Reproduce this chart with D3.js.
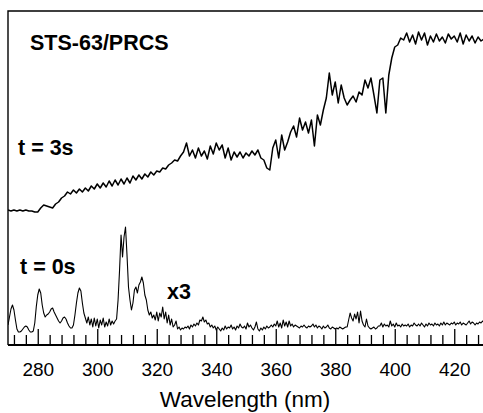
<!DOCTYPE html>
<html>
<head>
<meta charset="utf-8">
<script src="https://cdn.jsdelivr.net/npm/d3@7"></script>
<style>
  body { margin: 0; background: #fff; }
  svg { display: block; font-family: "Liberation Sans", Arial, sans-serif; }
</style>
</head>
<body>
<div id="chart"></div>
<script>
// t = 3s spectrum, 1 nm steps from 270 to 430 (arbitrary units)
const wl3s = d3.range(270, 430.5, 1);
const spec3s = [
  135,134,135,134,135,134,135,134,134,133,
  133,137,140,139,138,137,141,143,147,149,
  153,151,155,152,156,153,157,154,159,156,
  161,157,162,158,164,159,165,160,166,161,
  167,162,169,165,170,166,171,168,173,170,
  174,173,177,176,180,182,185,184,189,193,
  202,189,195,187,197,189,194,186,199,191,
  202,195,200,187,197,185,193,188,193,187,
  192,189,194,190,195,187,185,177,175,197,
  205,187,210,195,203,213,219,208,227,215,
  223,212,225,199,230,220,235,247,272,250,
  263,242,260,247,240,245,249,243,253,250,
  265,257,267,250,232,265,267,232,270,287,
  298,300,307,305,312,303,310,301,313,305,
  312,300,309,303,311,304,308,302,311,306,
  309,303,312,301,310,304,309,302,308,304,
  306
];

// t = 0s spectrum (x3), 0.5 nm steps from 270 to 430
const wl0s = d3.range(270, 430.25, 0.5);
const spec0s = [
  20,28,36,40,35,25,16,13,13,14,
  16,18,19,18,15,13,13,14,22,38,
  50,56,52,40,32,28,30,31,33,36,
  37,33,30,27,24,22,24,27,28,26,
  22,19,17,17,20,30,42,52,57,54,
  42,32,27,22,28,20,26,18,27,19,
  26,17,25,20,27,18,23,19,26,20,
  24,21,24,26,45,75,110,88,108,118,
  90,58,45,35,42,55,58,52,60,63,
  68,62,50,45,35,30,33,27,30,25,
  33,24,32,28,38,26,33,22,30,20,
  26,18,20,24,16,18,15,17,16,18,
  17,19,16,20,18,21,19,22,20,25,
  24,28,23,25,21,22,18,20,17,19,
  15,18,16,14,17,15,19,16,18,17,
  20,16,18,15,19,17,21,18,17,19,
  16,22,18,20,17,15,18,23,16,14,
  17,15,18,16,19,17,18,20,18,21,
  19,24,18,22,17,25,19,23,18,24,
  19,21,18,20,19,18,17,19,18,20,
  18,17,19,18,19,21,18,20,17,19,
  18,16,19,17,18,20,17,16,18,17,
  16,17,16,18,17,16,17,18,18,25,
  32,27,24,31,26,33,22,34,24,20,
  18,26,19,17,16,17,18,16,17,19,
  19,22,18,21,19,20,18,24,19,21,
  18,22,19,20,18,21,19,20,19,21,
  18,20,19,22,20,19,21,19,22,20,
  18,21,19,22,20,21,19,22,20,21,
  19,22,20,23,20,22,21,20,22,21,
  23,20,22,21,23,20,22,21,20,22,
  24,21,23,22,20,22,21,23,22,24,
  22
];

const majorTicks = [280, 300, 320, 340, 360, 380, 400, 420];
const minorTicks = d3.range(272, 430, 4).filter(v => v % 20 !== 0);

const labels = [
  { text: 'STS-63/PRCS', x: 30, y: 50 },
  { text: 't = 3s', x: 18, y: 155 },
  { text: 't = 0s', x: 20, y: 274 },
  { text: 'x3', x: 167, y: 299 }
];

const width = 483, height = 413;
const margin = { left: 8, top: 11, bottom: 345, right: 484 };

const svg = d3.select('#chart').append('svg').attr('width', width).attr('height', height);

const x = d3.scaleLinear().domain([270, 430]).range([margin.left, margin.right]);
const y = d3.scaleLinear().domain([0, 334]).range([margin.bottom, margin.top]);

svg.append('defs').append('clipPath').attr('id', 'clip')
  .append('rect').attr('x', margin.left).attr('y', margin.top)
  .attr('width', margin.right - margin.left).attr('height', margin.bottom - margin.top);

const line = d3.line().x(d => x(d[0])).y(d => y(d[1]));

const plot = svg.append('g').attr('clip-path', 'url(#clip)');
plot.append('path')
  .datum(wl3s.map((w, i) => [w, spec3s[i]]))
  .attr('d', line).attr('fill', 'none').attr('stroke', '#000').attr('stroke-width', 1.5)
  .attr('stroke-linejoin', 'round');
plot.append('path')
  .datum(wl0s.map((w, i) => [w, spec0s[i]]))
  .attr('d', line).attr('fill', 'none').attr('stroke', '#000').attr('stroke-width', 1.1)
  .attr('stroke-linejoin', 'round');

// frame: top and left
svg.append('path')
  .attr('d', `M${margin.right},${margin.top}H${margin.left}V${margin.bottom}`)
  .attr('fill', 'none').attr('stroke', '#000').attr('stroke-width', 1.4);

// minor ticks
const minorAxis = svg.append('g').attr('transform', `translate(0,${margin.bottom})`)
  .call(d3.axisBottom(x).tickValues(minorTicks).tickSize(-10).tickFormat(''));
minorAxis.select('.domain').remove();
minorAxis.selectAll('line').attr('stroke-width', 1.3);

// major ticks + labels
const majorAxis = svg.append('g').attr('transform', `translate(0,${margin.bottom})`)
  .call(d3.axisBottom(x).tickValues(majorTicks).tickSize(-16).tickPadding(18));
majorAxis.select('.domain').remove();
majorAxis.selectAll('line').attr('stroke-width', 1.3);
majorAxis.selectAll('text')
  .attr('font-size', 19).attr('font-family', '"Liberation Sans", Arial, sans-serif')
  .attr('fill', '#000');

// bottom axis line
svg.append('line')
  .attr('x1', margin.left).attr('x2', margin.right)
  .attr('y1', margin.bottom).attr('y2', margin.bottom)
  .attr('stroke', '#000').attr('stroke-width', 2.2);

svg.append('text')
  .attr('x', 245).attr('y', 407).attr('text-anchor', 'middle')
  .attr('font-size', 22.5).text('Wavelength (nm)');

svg.selectAll('.lab').data(labels).enter().append('text')
  .attr('class', 'lab')
  .attr('x', d => d.x).attr('y', d => d.y)
  .attr('font-size', 21.5).attr('font-weight', 'bold')
  .text(d => d.text);
</script>
</body>
</html>
